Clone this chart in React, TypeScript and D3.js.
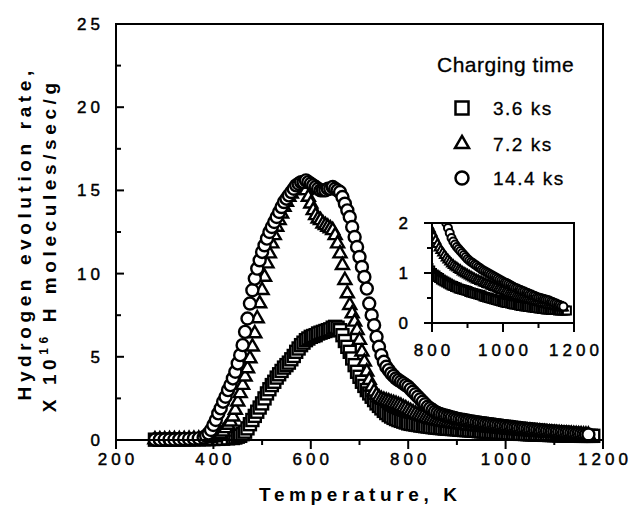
import React from "react";
import * as d3 from "d3";

// ---------- data ----------
const xTicksMajor = [200, 400, 600, 800, 1000, 1200];
const xTicksMinor = [300, 500, 700, 900, 1100];
const yTicksMajor = [0, 5, 10, 15, 20, 25];
const yTicksMinor = [2.5, 7.5, 12.5, 17.5, 22.5];
const insetXTicksMajor = [800, 1000, 1200];
const insetXTicksMinor = [900, 1100];
const insetYTicksMajor = [0, 1, 2];
const insetYTicksMinor = [0.5, 1.5];

const seriesNames = ["3.6 ks", "7.2 ks", "14.4 ks"];

// [temperature K, rate x1e16] — 3.6 ks (squares)
const data36: [number, number][] = [
  [280,0.02],[290,0.02],[300,0.02],[310,0.02],[320,0.03],[330,0.03],[340,0.03],[350,0.03],[360,0.04],[370,0.04],[380,0.05],[390,0.05],[400,0.06],[410,0.07],[420,0.08],[430,0.1],[440,0.12],
  [445,0.15],[450,0.2],[455,0.25],[460,0.35],[465,0.5],[470,0.7],[475,0.95],[480,1.2],[485,1.45],[490,1.7],[495,1.95],[500,2.2],[505,2.5],[510,2.8],[515,3.05],[520,3.3],[525,3.5],[530,3.75],[535,3.95],[540,4.15],[545,4.35],[550,4.5],[555,4.65],[560,4.85],[565,5.05],[570,5.3],[575,5.5],[580,5.7],[585,5.85],[590,6.0],[595,6.1],[600,6.2],[605,6.25],[610,6.3],[615,6.4],[620,6.45],[625,6.5],[630,6.55],[635,6.6],[640,6.65],[645,6.75],[650,6.8],[655,6.75],[660,6.6],[665,6.3],[670,5.95],[675,5.6],[680,5.3],[685,4.9],[690,4.5],[695,4.1],[700,3.8],[705,3.5],[710,3.25],[715,3.0],[720,2.8],[725,2.6],[730,2.4],[735,2.2],[740,2.05],[745,1.9],[750,1.75],[755,1.62],[760,1.5],
  [765,1.41],[770,1.33],[775,1.26],[780,1.2],[785,1.15],[790,1.1],[795,1.05],[800,1.0],[805,0.97],[810,0.95],[815,0.92],[820,0.9],[825,0.87],[830,0.85],[835,0.83],[840,0.81],[845,0.79],[850,0.77],[855,0.75],[860,0.74],[865,0.72],[870,0.71],[875,0.69],[880,0.68],[885,0.67],[890,0.66],[895,0.65],[900,0.64],[905,0.62],[910,0.61],[915,0.6],[920,0.59],[925,0.58],[930,0.57],[935,0.56],[940,0.55],[945,0.53],[950,0.52],[955,0.51],[960,0.5],[965,0.49],[970,0.48],[975,0.47],[980,0.46],[985,0.45],[990,0.44],[995,0.43],[1000,0.42],[1005,0.41],[1010,0.4],[1015,0.4],[1020,0.39],[1025,0.38],[1030,0.37],[1035,0.37],[1040,0.36],[1045,0.35],[1050,0.34],[1055,0.34],[1060,0.33],[1065,0.33],[1070,0.32],[1075,0.32],[1080,0.31],[1085,0.31],[1090,0.3],[1095,0.3],[1100,0.29],[1105,0.29],[1110,0.28],[1115,0.28],[1120,0.27],[1125,0.27],[1130,0.27],[1135,0.26],[1140,0.26],[1145,0.26],[1150,0.26],[1155,0.25],[1160,0.25],[1165,0.25],[1170,0.25],[1175,0.25],[1180,0.25],
];

// 7.2 ks (triangles)
const data72: [number, number][] = [
  [280,0.02],[290,0.02],[300,0.02],[310,0.03],[320,0.03],[330,0.03],[340,0.04],[350,0.05],[360,0.05],[370,0.06],[380,0.08],[390,0.1],[400,0.15],[410,0.25],
  [415,0.35],[420,0.5],[425,0.7],[430,0.9],[435,1.1],[440,1.4],[445,1.8],[450,2.3],[455,2.8],[460,3.3],[465,3.8],[470,4.3],[475,4.9],[480,5.6],[485,6.4],[490,7.3],[495,8.2],[500,9.0],[505,9.8],[510,10.6],[515,11.2],[520,11.8],[525,12.3],[530,12.8],[535,13.2],[540,13.6],[545,14.0],[550,14.3],[555,14.6],[560,14.8],[565,15.0],[570,15.1],[575,15.2],[580,15.3],[585,15.2],[590,15.0],[595,14.6],[600,14.2],[605,13.8],[610,13.5],[615,13.3],[620,13.2],[625,13.0],[630,12.9],[635,12.8],[640,12.7],[645,12.6],[650,12.3],[655,11.8],[660,11.2],[665,10.5],[670,9.6],[675,8.8],[680,8.1],[685,7.6],[690,7.1],[695,6.6],[700,6.0],[705,5.3],[710,4.7],[715,4.1],[720,3.6],[725,3.2],[730,2.9],[735,2.7],[740,2.55],[745,2.45],[750,2.4],[755,2.35],[760,2.3],
  [765,2.25],[770,2.2],[775,2.15],[780,2.1],[785,2.03],[790,1.95],[795,1.88],[800,1.8],[805,1.72],[810,1.65],[815,1.57],[820,1.5],[825,1.45],[830,1.4],[835,1.35],[840,1.3],[845,1.26],[850,1.22],[855,1.18],[860,1.15],[865,1.12],[870,1.1],[875,1.07],[880,1.05],[885,1.02],[890,1.0],[895,0.98],[900,0.96],[905,0.94],[910,0.92],[915,0.9],[920,0.88],[925,0.86],[930,0.85],[935,0.83],[940,0.82],[945,0.8],[950,0.79],[955,0.77],[960,0.76],[965,0.74],[970,0.73],[975,0.71],[980,0.7],[985,0.68],[990,0.67],[995,0.65],[1000,0.64],[1005,0.62],[1010,0.61],[1015,0.59],[1020,0.58],[1025,0.57],[1030,0.56],[1035,0.54],[1040,0.53],[1045,0.52],[1050,0.51],[1055,0.5],[1060,0.49],[1065,0.48],[1070,0.47],[1075,0.46],[1080,0.45],[1085,0.44],[1090,0.43],[1095,0.42],[1100,0.41],[1105,0.4],[1110,0.39],[1115,0.38],[1120,0.37],[1125,0.36],[1130,0.35],[1135,0.35],[1140,0.34],[1145,0.33],[1150,0.32],[1155,0.32],[1160,0.31],[1165,0.3],[1170,0.3],
];

// 14.4 ks (circles)
const data144: [number, number][] = [
  [280,0.02],[290,0.02],[300,0.03],[310,0.03],[320,0.03],[330,0.04],[340,0.05],[350,0.06],[360,0.08],[370,0.1],[380,0.15],
  [385,0.25],[390,0.4],[395,0.6],[400,0.9],[405,1.2],[410,1.6],[415,1.9],[420,2.3],[425,2.6],[430,3.0],[435,3.3],[440,3.7],[445,4.1],[450,4.6],[455,5.1],[460,5.7],[465,6.5],[470,7.3],[475,8.2],[480,9.0],[485,9.7],[490,10.3],[495,10.8],[500,11.3],[505,11.7],[510,12.1],[515,12.5],[520,12.8],[525,13.1],[530,13.4],[535,13.7],[540,14.0],[545,14.3],[550,14.5],[555,14.7],[560,14.9],[565,15.1],[570,15.3],[575,15.4],[580,15.5],[585,15.5],[590,15.6],[595,15.5],[600,15.4],[605,15.3],[610,15.2],[615,15.1],[620,15.0],[625,15.0],[630,15.0],[635,15.1],[640,15.1],[645,15.2],[650,15.1],[655,15.0],[660,14.9],[665,14.6],[670,14.2],[675,13.8],[680,13.4],[685,12.8],[690,12.2],[695,11.6],[700,11.0],[705,10.4],[710,9.8],[715,9.1],[720,8.2],[725,7.5],[730,6.9],[735,6.2],[740,5.6],[745,5.1],[750,4.7],[755,4.4],[760,4.2],
  [765,4.0],[770,3.85],[775,3.7],[780,3.6],[785,3.5],[790,3.4],[795,3.3],[800,3.2],[805,3.05],[810,2.9],[815,2.75],[820,2.6],[825,2.45],[830,2.3],[835,2.15],[840,2.0],[845,1.9],[850,1.8],[855,1.7],[860,1.63],[865,1.57],[870,1.52],[875,1.48],[880,1.44],[885,1.4],[890,1.36],[895,1.32],[900,1.28],[905,1.25],[910,1.22],[915,1.2],[920,1.17],[925,1.15],[930,1.12],[935,1.1],[940,1.07],[945,1.05],[950,1.03],[955,1.01],[960,0.99],[965,0.97],[970,0.95],[975,0.93],[980,0.91],[985,0.89],[990,0.87],[995,0.85],[1000,0.83],[1005,0.81],[1010,0.8],[1015,0.78],[1020,0.76],[1025,0.74],[1030,0.72],[1035,0.7],[1040,0.69],[1045,0.67],[1050,0.66],[1055,0.64],[1060,0.63],[1065,0.61],[1070,0.6],[1075,0.58],[1080,0.57],[1085,0.55],[1090,0.54],[1095,0.52],[1100,0.51],[1105,0.5],[1110,0.49],[1115,0.48],[1120,0.47],[1125,0.46],[1130,0.45],[1135,0.43],[1140,0.42],[1145,0.4],[1150,0.39],[1155,0.37],[1160,0.36],[1165,0.34],[1170,0.33],
];

// ---------- layout ----------
const W = 632;
const H = 506;
const FONT = "'Liberation Sans', Arial, Helvetica, sans-serif";

const x = d3.scaleLinear().domain([200, 1200]).range([116, 603]);
const y = d3.scaleLinear().domain([0, 25]).range([440, 24]);
const xi = d3.scaleLinear().domain([800, 1200]).range([432, 574]);
const yi = d3.scaleLinear().domain([0, 2]).range([323, 223]);

type Shape = "square" | "triangle" | "circle";

function Marker({ cx, cy, shape, s, sw }: { cx: number; cy: number; shape: Shape; s: number; sw: number }) {
  if (shape === "circle") {
    return <circle cx={cx} cy={cy} r={s / 2} fill="#fff" stroke="#000" strokeWidth={sw} />;
  }
  if (shape === "square") {
    return <rect x={cx - s / 2} y={cy - s / 2} width={s} height={s} fill="#fff" stroke="#000" strokeWidth={sw} />;
  }
  const h = (s * Math.sqrt(3)) / 2;
  const d = `M${cx},${cy - (2 * h) / 3}L${cx + s / 2},${cy + h / 3}L${cx - s / 2},${cy + h / 3}Z`;
  return <path d={d} fill="#fff" stroke="#000" strokeWidth={sw} strokeLinejoin="miter" />;
}

const series: { data: [number, number][]; shape: Shape }[] = [
  { data: data36, shape: "square" },
  { data: data72, shape: "triangle" },
  { data: data144, shape: "circle" },
];

const mainSize: Record<Shape, number> = { square: 12, triangle: 13, circle: 12 };
const insetSize: Record<Shape, number> = { square: 8, triangle: 9, circle: 8 };

export default function App() {
  const tickFont = { fontFamily: FONT, fontSize: 17, letterSpacing: 4 } as const;
  const tickStroke = { stroke: "#000", strokeWidth: 0.45 };
  return (
    <svg width={W} height={H} style={{ position: "absolute", left: 0, top: 0, background: "#fff" }}>
      <rect x={0} y={0} width={W} height={H} fill="#fff" />
      <defs>
        <clipPath id="insetClip">
          <rect x={xi(800)} y={yi(2)} width={xi(1200) - xi(800)} height={yi(0) - yi(2)} />
        </clipPath>
      </defs>

      {/* main data */}
      <g>
        {series.map((s, si) =>
          s.data.map(([t, v], i) => (
            <Marker key={`m${si}-${i}`} cx={x(t)} cy={y(v)} shape={s.shape} s={mainSize[s.shape]} sw={2.4} />
          ))
        )}
      </g>

      {/* main frame */}
      <rect x={x(200)} y={y(25)} width={x(1200) - x(200)} height={y(0) - y(25)} fill="none" stroke="#000" strokeWidth={2} />
      {yTicksMajor.map((v) => (
        <line key={`ym${v}`} x1={x(200)} x2={x(200) + 8} y1={y(v)} y2={y(v)} stroke="#000" strokeWidth={2} />
      ))}
      {yTicksMinor.map((v) => (
        <line key={`yn${v}`} x1={x(200)} x2={x(200) + 5} y1={y(v)} y2={y(v)} stroke="#000" strokeWidth={2} />
      ))}
      {xTicksMajor.map((v) => (
        <line key={`xm${v}`} x1={x(v)} x2={x(v)} y1={y(0)} y2={y(0) + 9} stroke="#000" strokeWidth={2} />
      ))}
      {xTicksMinor.map((v) => (
        <line key={`xn${v}`} x1={x(v)} x2={x(v)} y1={y(0)} y2={y(0) + 5} stroke="#000" strokeWidth={2} />
      ))}
      {yTicksMajor.map((v) => (
        <text key={`yl${v}`} x={100 + 4} y={y(v) + 6} textAnchor="end" style={tickFont} {...tickStroke}>
          {v}
        </text>
      ))}
      {xTicksMajor.map((v) => (
        <text key={`xl${v}`} x={x(v) + 2} y={465} textAnchor="middle" style={tickFont} {...tickStroke}>
          {v}
        </text>
      ))}

      {/* axis titles */}
      <text x={358 + 2.3} y={501} textAnchor="middle" style={{ fontFamily: FONT, fontSize: 19, fontWeight: "bold", letterSpacing: 4.6 }}>
        Temperature, K
      </text>
      <text
        transform={`translate(31,${231 + 2.3}) rotate(-90)`}
        textAnchor="middle"
        style={{ fontFamily: FONT, fontSize: 19, fontWeight: "bold", letterSpacing: 4.6 }}
      >
        Hydrogen evolution rate,
      </text>
      <text
        transform={`translate(56,${243 + 2.3}) rotate(-90)`}
        textAnchor="middle"
        style={{ fontFamily: FONT, fontSize: 19, fontWeight: "bold", letterSpacing: 4.6 }}
      >
        X 10
        <tspan dy={-8} style={{ fontSize: 12 }}>16</tspan>
        <tspan dy={8}> H molecules/sec/g</tspan>
      </text>

      {/* legend */}
      <text x={437} y={72} style={{ fontFamily: FONT, fontSize: 21, letterSpacing: 0.5 }} stroke="#000" strokeWidth={0.3}>
        Charging time
      </text>
      {series.map((s, i) => (
        <g key={`lg${i}`}>
          <Marker cx={462} cy={[108, 144, 178][i]} shape={s.shape} s={[13, 14, 13][i]} sw={2.5} />
          <text x={493} y={[115, 151, 185][i]} style={{ fontFamily: FONT, fontSize: 19, letterSpacing: 1.5 }} stroke="#000" strokeWidth={0.3}>
            {seriesNames[i]}
          </text>
        </g>
      ))}

      {/* inset */}
      <rect x={xi(800)} y={yi(2)} width={xi(1200) - xi(800)} height={yi(0) - yi(2)} fill="#fff" />
      <g clipPath="url(#insetClip)">
        {series.map((s, si) =>
          s.data.map(([t, v], i) =>
            t >= 790 ? (
              <Marker key={`i${si}-${i}`} cx={xi(t)} cy={yi(v)} shape={s.shape} s={insetSize[s.shape]} sw={2} />
            ) : null
          )
        )}
      </g>
      <rect x={xi(800)} y={yi(2)} width={xi(1200) - xi(800)} height={yi(0) - yi(2)} fill="none" stroke="#000" strokeWidth={2} />
      {insetYTicksMajor.map((v) => (
        <line key={`iym${v}`} x1={xi(800) - 8} x2={xi(800)} y1={yi(v)} y2={yi(v)} stroke="#000" strokeWidth={2} />
      ))}
      {insetYTicksMinor.map((v) => (
        <line key={`iyn${v}`} x1={xi(800) - 5} x2={xi(800)} y1={yi(v)} y2={yi(v)} stroke="#000" strokeWidth={2} />
      ))}
      {insetXTicksMajor.map((v) => (
        <line key={`ixm${v}`} x1={xi(v)} x2={xi(v)} y1={yi(0)} y2={yi(0) + 9} stroke="#000" strokeWidth={2} />
      ))}
      {insetXTicksMinor.map((v) => (
        <line key={`ixn${v}`} x1={xi(v)} x2={xi(v)} y1={yi(0)} y2={yi(0) + 5} stroke="#000" strokeWidth={2} />
      ))}
      {insetYTicksMajor.map((v) => (
        <text key={`iyl${v}`} x={412} y={yi(v) + 6} textAnchor="end" style={tickFont} {...tickStroke}>
          {v}
        </text>
      ))}
      {insetXTicksMajor.map((v) => (
        <text key={`ixl${v}`} x={xi(v) + 2} y={356} textAnchor="middle" style={tickFont} {...tickStroke}>
          {v}
        </text>
      ))}
    </svg>
  );
}
